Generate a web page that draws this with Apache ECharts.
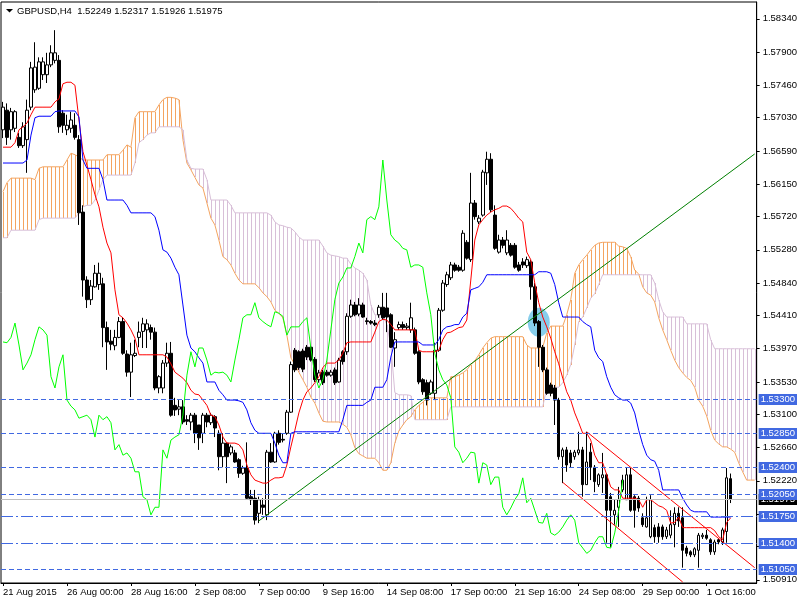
<!DOCTYPE html>
<html><head><meta charset="utf-8">
<script src="https://cdn.jsdelivr.net/npm/echarts@6/dist/echarts.min.js"></script>
<style>html,body{margin:0;padding:0;background:#fff}#c{width:800px;height:600px}</style>
</head><body><div id="c"></div><script>
const FONT = "'Liberation Sans', Arial, sans-serif";
const titleText = 'GBPUSD,H4  1.52249 1.52317 1.51926 1.51975';
const xLabels = ['21 Aug 2015','26 Aug 00:00','28 Aug 16:00','2 Sep 08:00','7 Sep 00:00','9 Sep 16:00','14 Sep 08:00','17 Sep 00:00','21 Sep 16:00','24 Sep 08:00','29 Sep 00:00','1 Oct 16:00'];
const yTicks = [1.50910,1.51350,1.51780,1.52220,1.52660,1.53100,1.53530,1.53970,1.54410,1.54840,1.55280,1.55720,1.56150,1.56590,1.57030,1.57460,1.57900,1.58340];
const yMin = 1.50867, yMax = 1.58563;

// [open, close, low, high]
const candles = [
[1.5687,1.5717,1.5676,1.5724],[1.5713,1.5677,1.5667,1.5722],[1.5687,1.5711,1.5674,1.5716],[1.5689,1.5711,1.5684,1.5713],[1.5677,1.5666,1.5663,1.5683],
[1.5666,1.5691,1.5663,1.5697],[1.5674,1.5713,1.5630,1.5727],[1.5717,1.5769,1.5713,1.5777],[1.5740,1.5770,1.5736,1.5803],[1.5742,1.5777,1.5740,1.5783],
[1.5760,1.5777,1.5753,1.5783],[1.5760,1.5773,1.5749,1.5789],[1.5773,1.5789,1.5770,1.5799],[1.5779,1.5789,1.5775,1.5819],[1.5779,1.5691,1.5683,1.5786],
[1.5709,1.5693,1.5683,1.5713],[1.5687,1.5693,1.5680,1.5707],[1.5689,1.5700,1.5683,1.5711],[1.5693,1.5677,1.5674,1.5709],[1.5674,1.5577,1.5561,1.5680],
[1.5578,1.5488,1.5466,1.5587],[1.5488,1.5462,1.5451,1.5493],[1.5462,1.5480,1.5455,1.5488],[1.5479,1.5497,1.5478,1.5508],[1.5482,1.5497,1.5475,1.5511],
[1.5483,1.5425,1.5399,1.5491],[1.5425,1.5406,1.5369,1.5433],[1.5407,1.5403,1.5395,1.5422],[1.5401,1.5412,1.5395,1.5422],[1.5412,1.5433,1.5411,1.5439],
[1.5433,1.5391,1.5389,1.5439],[1.5390,1.5366,1.5360,1.5395],[1.5366,1.5389,1.5333,1.5405],[1.5388,1.5391,1.5386,1.5409],[1.5412,1.5419,1.5399,1.5433],
[1.5420,1.5430,1.5398,1.5438],[1.5422,1.5430,1.5398,1.5436],[1.5425,1.5419,1.5409,1.5429],[1.5419,1.5345,1.5342,1.5425],[1.5345,1.5360,1.5338,1.5362],
[1.5345,1.5378,1.5338,1.5382],[1.5378,1.5391,1.5373,1.5405],[1.5391,1.5309,1.5307,1.5406],[1.5322,1.5316,1.5308,1.5332],[1.5317,1.5320,1.5309,1.5329],
[1.5320,1.5300,1.5297,1.5329],[1.5303,1.5301,1.5296,1.5309],[1.5300,1.5309,1.5289,1.5312],[1.5309,1.5285,1.5272,1.5312],[1.5296,1.5279,1.5263,1.5296],
[1.5285,1.5309,1.5272,1.5312],[1.5309,1.5300,1.5293,1.5312],[1.5299,1.5309,1.5296,1.5312],[1.5307,1.5292,1.5280,1.5309],[1.5285,1.5254,1.5236,1.5289],
[1.5254,1.5272,1.5240,1.5285],[1.5272,1.5254,1.5219,1.5272],[1.5259,1.5267,1.5256,1.5270],[1.5259,1.5247,1.5246,1.5263],[1.5250,1.5232,1.5226,1.5252],
[1.5232,1.5239,1.5230,1.5242],[1.5239,1.5199,1.5197,1.5273],[1.5201,1.5197,1.5190,1.5210],[1.5199,1.5170,1.5164,1.5210],[1.5179,1.5197,1.5166,1.5201],
[1.5190,1.5187,1.5177,1.5199],[1.5177,1.5260,1.5170,1.5263],[1.5260,1.5247,1.5246,1.5272],[1.5247,1.5285,1.5246,1.5287],[1.5285,1.5273,1.5270,1.5289],
[1.5277,1.5276,1.5273,1.5285],[1.5285,1.5313,1.5283,1.5316],[1.5313,1.5376,1.5312,1.5380],[1.5395,1.5369,1.5366,1.5398],[1.5393,1.5372,1.5369,1.5395],
[1.5394,1.5370,1.5366,1.5397],[1.5399,1.5386,1.5382,1.5402],[1.5399,1.5382,1.5380,1.5402],[1.5383,1.5356,1.5353,1.5386],[1.5356,1.5365,1.5352,1.5369],
[1.5366,1.5352,1.5349,1.5369],[1.5366,1.5362,1.5360,1.5369],[1.5362,1.5366,1.5360,1.5369],[1.5369,1.5352,1.5349,1.5372],[1.5353,1.5382,1.5352,1.5385],
[1.5393,1.5380,1.5376,1.5395],[1.5393,1.5440,1.5389,1.5444],[1.5440,1.5455,1.5438,1.5462],[1.5455,1.5442,1.5440,1.5459],[1.5443,1.5455,1.5440,1.5464],
[1.5455,1.5439,1.5438,1.5458],[1.5434,1.5433,1.5429,1.5438],[1.5433,1.5431,1.5429,1.5435],[1.5431,1.5429,1.5427,1.5435],[1.5442,1.5452,1.5438,1.5455],
[1.5452,1.5438,1.5435,1.5471],[1.5451,1.5439,1.5419,1.5471],[1.5442,1.5399,1.5398,1.5444],[1.5398,1.5409,1.5373,1.5419],[1.5425,1.5429,1.5422,1.5433],
[1.5429,1.5425,1.5422,1.5433],[1.5425,1.5427,1.5422,1.5431],[1.5422,1.5438,1.5418,1.5458],[1.5422,1.5391,1.5389,1.5425],[1.5393,1.5353,1.5350,1.5395],
[1.5356,1.5340,1.5336,1.5358],[1.5352,1.5329,1.5322,1.5356],[1.5338,1.5353,1.5336,1.5356],[1.5338,1.5395,1.5329,1.5405],[1.5395,1.5448,1.5393,1.5451],
[1.5448,1.5484,1.5446,1.5488],[1.5482,1.5495,1.5479,1.5499],[1.5491,1.5508,1.5488,1.5512],[1.5508,1.5501,1.5499,1.5511],[1.5505,1.5501,1.5499,1.5508],
[1.5501,1.5550,1.5499,1.5554],[1.5538,1.5517,1.5515,1.5541],[1.5515,1.5590,1.5512,1.5630],[1.5590,1.5572,1.5568,1.5594],[1.5565,1.5570,1.5562,1.5574],
[1.5574,1.5631,1.5572,1.5634],[1.5630,1.5648,1.5614,1.5658],[1.5648,1.5581,1.5578,1.5656],[1.5574,1.5530,1.5528,1.5587],[1.5525,1.5541,1.5523,1.5548],
[1.5541,1.5534,1.5530,1.5545],[1.5524,1.5541,1.5521,1.5554],[1.5534,1.5521,1.5519,1.5537],[1.5534,1.5505,1.5503,1.5537],[1.5508,1.5501,1.5499,1.5512],
[1.5512,1.5508,1.5504,1.5517],[1.5507,1.5515,1.5504,1.5519],[1.5512,1.5479,1.5462,1.5515],[1.5479,1.5431,1.5427,1.5484],[1.5433,1.5399,1.5373,1.5435],
[1.5399,1.5369,1.5366,1.5402],[1.5369,1.5338,1.5336,1.5372],[1.5349,1.5338,1.5334,1.5352],[1.5345,1.5329,1.5296,1.5349],[1.5329,1.5254,1.5250,1.5332],
[1.5254,1.5263,1.5219,1.5266],[1.5263,1.5243,1.5234,1.5267],[1.5259,1.5246,1.5240,1.5263],[1.5254,1.5260,1.5250,1.5263],[1.5259,1.5263,1.5256,1.5287],
[1.5263,1.5217,1.5201,1.5267],[1.5217,1.5247,1.5217,1.5287],[1.5260,1.5240,1.5223,1.5272],[1.5240,1.5221,1.5207,1.5243],[1.5217,1.5230,1.5214,1.5232],
[1.5226,1.5230,1.5206,1.5259],[1.5230,1.5183,1.5140,1.5232],[1.5201,1.5183,1.5134,1.5206],[1.5177,1.5183,1.5164,1.5197],[1.5187,1.5197,1.5161,1.5214],
[1.5210,1.5223,1.5207,1.5230],[1.5197,1.5230,1.5197,1.5239],[1.5230,1.5183,1.5181,1.5239],[1.5201,1.5183,1.5160,1.5203],[1.5199,1.5186,1.5181,1.5202],
[1.5173,1.5164,1.5161,1.5179],[1.5161,1.5173,1.5160,1.5201],[1.5148,1.5197,1.5146,1.5203],[1.5160,1.5148,1.5140,1.5164],[1.5161,1.5148,1.5140,1.5166],
[1.5161,1.5148,1.5144,1.5164],[1.5148,1.5157,1.5145,1.5161],[1.5150,1.5164,1.5146,1.5183],[1.5164,1.5179,1.5134,1.5187],[1.5179,1.5169,1.5161,1.5187],
[1.5173,1.5130,1.5107,1.5187],[1.5133,1.5126,1.5122,1.5136],[1.5128,1.5124,1.5121,1.5130],[1.5124,1.5132,1.5121,1.5134],[1.5130,1.5150,1.5107,1.5153],
[1.5148,1.5150,1.5145,1.5153],[1.5150,1.5146,1.5144,1.5157],[1.5144,1.5128,1.5124,1.5146],[1.5128,1.5141,1.5124,1.5144],[1.5144,1.5141,1.5138,1.5146],
[1.5141,1.5157,1.5137,1.5160],[1.5155,1.5226,1.5140,1.5239],[1.52249,1.51975,1.51926,1.52317]
];

const tenkan = [
1.5664,1.5664,1.5664,1.5670,1.5687,1.5691,1.5696,1.5707,1.5717,1.5717,
1.5717,1.5717,1.5717,1.5724,1.5728,1.5748,1.5750,1.5750,1.5746,1.5700,
1.5658,1.5640,1.5621,1.5601,1.5585,1.5558,1.5537,1.5524,1.5475,1.5442,
1.5438,1.5431,1.5422,1.5411,1.5389,1.5389,1.5389,1.5389,1.5389,1.5389,
1.5389,1.5386,1.5377,1.5366,1.5362,1.5358,1.5352,1.5342,1.5337,1.5336,
1.5329,1.5322,1.5309,1.5307,1.5296,1.5280,1.5272,1.5272,1.5272,1.5270,
1.5263,1.5243,1.5230,1.5223,1.5221,1.5219,1.5219,1.5223,1.5226,1.5226,
1.5227,1.5243,1.5267,1.5289,1.5312,1.5329,1.5340,1.5345,1.5352,1.5360,
1.5372,1.5378,1.5378,1.5378,1.5382,1.5391,1.5405,1.5406,1.5406,1.5406,
1.5406,1.5406,1.5406,1.5419,1.5433,1.5436,1.5435,1.5429,1.5422,1.5422,
1.5422,1.5422,1.5422,1.5422,1.5395,1.5393,1.5393,1.5393,1.5393,1.5395,
1.5409,1.5418,1.5419,1.5422,1.5425,1.5426,1.5435,1.5488,1.5541,1.5561,
1.5568,1.5574,1.5578,1.5581,1.5583,1.5586,1.5586,1.5583,1.5577,1.5570,
1.5565,1.5525,1.5515,1.5484,1.5458,1.5439,1.5426,1.5411,1.5393,1.5377,
1.5358,1.5340,1.5329,1.5312,1.5299,1.5285,1.5285,1.5276,1.5256,1.5246,
1.5246,1.5230,1.5214,1.5210,1.5210,1.5199,1.5199,1.5199,1.5199,1.5197,
1.5187,1.5197,1.5197,1.5193,1.5189,1.5187,1.5183,1.5166,1.5167,1.5174,
1.5160,1.5160,1.5160,1.5160,1.5160,1.5160,1.5160,1.5160,1.5156,1.5148,
1.5144,1.5167,1.5173
];

const kijun = [
1.5643,1.5643,1.5643,1.5643,1.5643,1.5643,1.5647,1.5680,1.5703,1.5705,
1.5705,1.5705,1.5705,1.5711,1.5712,1.5712,1.5712,1.5712,1.5712,1.5704,
1.5647,1.5636,1.5636,1.5636,1.5636,1.5621,1.5594,1.5594,1.5594,1.5594,
1.5594,1.5587,1.5577,1.5577,1.5577,1.5577,1.5577,1.5577,1.5572,1.5554,
1.5528,1.5525,1.5517,1.5505,1.5495,1.5455,1.5415,1.5398,1.5393,1.5385,
1.5378,1.5353,1.5353,1.5353,1.5342,1.5336,1.5329,1.5329,1.5329,1.5328,
1.5326,1.5316,1.5299,1.5289,1.5285,1.5285,1.5285,1.5285,1.5272,1.5256,
1.5246,1.5246,1.5285,1.5287,1.5287,1.5287,1.5287,1.5287,1.5287,1.5287,
1.5287,1.5287,1.5287,1.5287,1.5287,1.5303,1.5322,1.5322,1.5322,1.5322,
1.5322,1.5326,1.5329,1.5346,1.5346,1.5346,1.5356,1.5386,1.5406,1.5406,
1.5406,1.5406,1.5406,1.5406,1.5406,1.5402,1.5402,1.5402,1.5402,1.5409,
1.5422,1.5426,1.5427,1.5429,1.5429,1.5439,1.5444,1.5475,1.5477,1.5479,
1.5485,1.5495,1.5495,1.5495,1.5495,1.5495,1.5495,1.5495,1.5495,1.5495,
1.5495,1.5495,1.5495,1.5495,1.5499,1.5499,1.5499,1.5497,1.5482,1.5458,
1.5439,1.5439,1.5439,1.5439,1.5439,1.5433,1.5429,1.5426,1.5395,1.5385,
1.5380,1.5360,1.5346,1.5336,1.5332,1.5329,1.5329,1.5325,1.5312,1.5289,
1.5270,1.5256,1.5250,1.5248,1.5236,1.5210,1.5210,1.5210,1.5210,1.5210,
1.5199,1.5190,1.5183,1.5181,1.5181,1.5181,1.5181,1.5174,1.5174,1.5174,
1.5174,1.5174,1.5174
];

const chikou = [
1.5406,1.5405,1.5412,1.5431,1.5402,1.5369,1.5378,1.5389,1.5409,1.5426,
1.5422,1.5415,1.5360,1.5345,1.5373,1.5389,1.5329,1.5321,1.5316,1.5305,
1.5307,1.5309,1.5303,1.5280,1.5309,1.5303,1.5307,1.5299,1.5263,1.5270,
1.5256,1.5259,1.5252,1.5234,1.5234,1.5201,1.5197,1.5177,1.5187,1.5187,
1.5263,1.5252,1.5276,1.5280,1.5283,1.5309,1.5362,1.5393,1.5373,1.5398,
1.5398,1.5382,1.5362,1.5366,1.5365,1.5366,1.5362,1.5353,1.5382,1.5409,
1.5438,1.5442,1.5442,1.5458,1.5438,1.5433,1.5429,1.5426,1.5446,1.5444,
1.5440,1.5415,1.5426,1.5426,1.5426,1.5433,1.5438,1.5398,1.5362,1.5345,
1.5356,1.5382,1.5422,1.5462,1.5484,1.5492,1.5504,1.5504,1.5519,1.5537,
1.5524,1.5568,1.5572,1.5568,1.5585,1.5647,1.5594,1.5548,1.5541,1.5537,
1.5530,1.5528,1.5505,1.5508,1.5508,1.5505,1.5471,1.5442,1.5391,1.5369,
1.5356,1.5349,1.5332,1.5267,1.5260,1.5246,1.5252,1.5260,1.5259,1.5219,
1.5246,1.5243,1.5217,1.5227,1.5227,1.5187,1.5177,1.5186,1.5197,1.5205,
1.5226,1.5193,1.5199,1.5183,1.5167,1.5166,1.5179,1.5153,1.5150,1.5154,
1.5161,1.5170,1.5177,1.5170,1.5140,1.5133,1.5126,1.5130,1.5140,1.5148,
1.5148,1.5134,1.5133,1.5153,1.5183,1.5223
];

const spanA = [
1.5605,1.5617,1.5623,1.5623,1.5623,1.5623,1.5623,1.5623,1.5621,1.5636,
1.5638,1.5638,1.5638,1.5638,1.5638,1.5638,1.5647,1.5656,1.5654,1.5651,
1.5647,1.5647,1.5647,1.5647,1.5647,1.5647,1.5654,1.5654,1.5654,1.5654,
1.5660,1.5667,1.5664,1.5703,1.5711,1.5711,1.5711,1.5711,1.5711,1.5720,
1.5727,1.5730,1.5730,1.5729,1.5727,1.5674,1.5643,1.5634,1.5624,1.5614,
1.5610,1.5590,1.5570,1.5561,1.5541,1.5519,1.5515,1.5508,1.5497,1.5488,
1.5483,1.5483,1.5483,1.5483,1.5478,1.5471,1.5466,1.5459,1.5448,1.5444,
1.5438,1.5415,1.5385,1.5376,1.5366,1.5356,1.5346,1.5333,1.5325,1.5312,
1.5301,1.5300,1.5300,1.5300,1.5300,1.5297,1.5293,1.5283,1.5266,1.5258,
1.5255,1.5252,1.5252,1.5252,1.5246,1.5236,1.5236,1.5246,1.5272,1.5288,
1.5296,1.5303,1.5307,1.5316,1.5322,1.5326,1.5332,1.5332,1.5332,1.5332,
1.5332,1.5332,1.5360,1.5360,1.5362,1.5365,1.5369,1.5376,1.5381,1.5389,
1.5398,1.5405,1.5411,1.5413,1.5413,1.5413,1.5413,1.5413,1.5413,1.5413,
1.5413,1.5402,1.5398,1.5398,1.5398,1.5399,1.5418,1.5427,1.5427,1.5427,
1.5427,1.5442,1.5462,1.5497,1.5508,1.5515,1.5521,1.5528,1.5534,1.5537,
1.5538,1.5538,1.5538,1.5538,1.5533,1.5532,1.5530,1.5519,1.5501,1.5496,
1.5479,1.5471,1.5468,1.5459,1.5438,1.5422,1.5409,1.5395,1.5382,1.5372,
1.5365,1.5359,1.5355,1.5346,1.5329,1.5321,1.5308,1.5289,1.5276,1.5271,
1.5267,1.5267,1.5264,1.5260,1.5246,1.5234,1.5223,1.5223,1.5223
];

const spanB = [
1.5544,1.5544,1.5554,1.5554,1.5554,1.5554,1.5554,1.5554,1.5554,1.5568,
1.5570,1.5570,1.5570,1.5570,1.5570,1.5570,1.5570,1.5570,1.5570,1.5577,
1.5585,1.5587,1.5587,1.5594,1.5607,1.5621,1.5627,1.5627,1.5627,1.5627,
1.5627,1.5627,1.5627,1.5643,1.5670,1.5674,1.5680,1.5683,1.5683,1.5691,
1.5691,1.5691,1.5691,1.5691,1.5691,1.5687,1.5647,1.5636,1.5635,1.5635,
1.5635,1.5621,1.5594,1.5594,1.5594,1.5594,1.5594,1.5587,1.5577,1.5577,
1.5577,1.5577,1.5577,1.5577,1.5577,1.5577,1.5577,1.5574,1.5565,1.5561,
1.5560,1.5558,1.5557,1.5552,1.5545,1.5541,1.5541,1.5541,1.5541,1.5541,
1.5533,1.5524,1.5521,1.5520,1.5519,1.5517,1.5517,1.5509,1.5504,1.5501,
1.5497,1.5488,1.5455,1.5442,1.5442,1.5442,1.5429,1.5402,1.5339,1.5336,
1.5336,1.5336,1.5335,1.5303,1.5303,1.5303,1.5303,1.5303,1.5303,1.5303,
1.5303,1.5303,1.5320,1.5320,1.5320,1.5320,1.5320,1.5320,1.5320,1.5320,
1.5320,1.5320,1.5320,1.5320,1.5320,1.5320,1.5320,1.5320,1.5320,1.5320,
1.5320,1.5320,1.5320,1.5320,1.5320,1.5320,1.5346,1.5346,1.5346,1.5346,
1.5352,1.5362,1.5376,1.5402,1.5433,1.5439,1.5451,1.5464,1.5470,1.5482,
1.5495,1.5495,1.5495,1.5495,1.5495,1.5495,1.5495,1.5495,1.5495,1.5495,
1.5495,1.5495,1.5495,1.5484,1.5462,1.5446,1.5439,1.5439,1.5439,1.5439,
1.5439,1.5430,1.5430,1.5430,1.5430,1.5430,1.5430,1.5409,1.5397,1.5397,
1.5397,1.5397,1.5397,1.5397,1.5397,1.5397,1.5397,1.5397,1.5397
];

const trendLine = [[64, 1.5169], [188, 1.5655]];
const channelUpper = [[146, 1.5287], [188, 1.5107]];
const channelLower = [[140, 1.5220], [170, 1.5088]];
const highlight = [[134, 1.5432]];
// price levels and their kind: 0 = bid line, 1 = dashed, 2 = dash-dot
const levelValues = [1.51975, 1.53300, 1.52850, 1.52400, 1.52050, 1.51050, 1.51750, 1.51400];
const levelKinds  = [0, 1, 1, 1, 1, 1, 2, 2];

// H4 bar times (weekdays only), starting 21 Aug 2015 08:00
const categories = [];
(function () {
  const pad = n => (n < 10 ? '0' : '') + n;
  let t = Date.UTC(2015, 7, 21, 8);
  while (categories.length < 189) {
    const d = new Date(t);
    const wd = d.getUTCDay();
    if (wd !== 0 && wd !== 6) categories.push(d.getUTCFullYear() + '.' + pad(d.getUTCMonth() + 1) + '.' + pad(d.getUTCDate()) + ' ' + pad(d.getUTCHours()) + ':00');
    t += 4 * 3600 * 1000;
  }
})();

const cloudUp = [], cloudDown = [];
spanA.forEach((a, i) => { (a >= spanB[i] ? cloudUp : cloudDown).push([i, a, spanB[i]]); });
const levelData = levelValues.map((v, i) => [0, v, levelKinds[i]]);

const BLUE = '#4169E1';
const hatchItem = (params, api) => {
  const c = api.visual('color');
  const p1 = api.coord([api.value(0), api.value(1)]);
  const p2 = api.coord([api.value(0), api.value(2)]);
  const x = Math.round(p1[0]) + 0.5;
  return { type: 'line', shape: { x1: x, y1: Math.round(p1[1]), x2: x, y2: Math.round(p2[1]) }, style: { stroke: c, fill: c, lineWidth: 1 } };
};
const levelItem = (params, api) => {
  const cs = params.coordSys;
  const v = api.value(1), kind = api.value(2);
  const y = Math.round(api.coord([0, v])[1]) + 0.5;
  const color = kind === 0 ? '#C0C0C0' : BLUE;
  const dash = kind === 1 ? [5, 3] : (kind === 2 ? [12, 3, 2, 3] : null);
  return {
    type: 'group',
    children: [
      { type: 'line', shape: { x1: cs.x, y1: y, x2: cs.x + cs.width, y2: y }, style: { stroke: color, fill: null, lineWidth: 1, lineDash: dash } },
      { type: 'text', x: cs.x + cs.width + 2, y: y, style: { text: v.toFixed(5), fill: '#fff', backgroundColor: kind === 0 ? '#000' : BLUE, padding: [1, 2, 0, 2], fontSize: 9.5, fontFamily: FONT, lineHeight: 10, verticalAlign: 'middle', align: 'left' } }
    ]
  };
};

const lineS = (data, color, z) => ({ type: 'line', data, symbol: 'none', z, silent: true, color: color, itemStyle: { color }, lineStyle: { color, width: 1 }, animation: false });

const option = {
  animation: false,
  backgroundColor: '#fff',
  title: { text: titleText, left: 17, top: 6, padding: 0, textStyle: { fontSize: 9.5, fontWeight: 'normal', color: '#000', fontFamily: FONT } },
  graphic: [{ type: 'polygon', shape: { points: [[6, 9], [13, 9], [9.5, 12.5]] }, style: { fill: '#000' } }],
  grid: { left: 1, right: 43, top: 2, bottom: 17, show: true, borderColor: '#000', borderWidth: 1 },
  xAxis: {
    type: 'category', data: categories, boundaryGap: true,
    axisLine: { lineStyle: { color: '#000' } },
    axisTick: { show: true, interval: i => i % 16 === 0, alignWithLabel: true, length: 3, lineStyle: { color: '#000' } },
    axisLabel: { interval: i => i % 16 === 0, formatter: (v, i) => xLabels[i / 16] || '', align: 'left', margin: 4, fontSize: 9.5, color: '#000', fontFamily: FONT },
    splitLine: { show: false }
  },
  yAxis: {
    type: 'value', position: 'right', min: yMin, max: yMax,
    axisLine: { show: true, lineStyle: { color: '#000' } },
    axisTick: { show: true, customValues: yTicks, length: 3, lineStyle: { color: '#000' } },
    axisLabel: { customValues: yTicks, formatter: v => Number(v).toFixed(5), margin: 6, fontSize: 9.5, color: '#000', fontFamily: FONT },
    splitLine: { show: false }
  },
  series: [
    { type: 'custom', z: 1, silent: true, data: cloudUp, encode: { x: 0, y: [1, 2] }, color: '#F4A460', itemStyle: { color: '#F4A460' }, renderItem: hatchItem },
    { type: 'custom', z: 1, silent: true, data: cloudDown, encode: { x: 0, y: [1, 2] }, color: '#D8BFD8', itemStyle: { color: '#D8BFD8' }, renderItem: hatchItem },
    lineS(spanA, '#F4A460', 1),
    lineS(spanB, '#D8BFD8', 1),
    { type: 'scatter', data: highlight, symbol: 'circle', symbolSize: [22, 29], z: 1, silent: true, itemStyle: { color: '#87CEEB', opacity: 1 } },
    {
      type: 'candlestick', data: candles, barWidth: 3, z: 2, silent: true,
      itemStyle: { color: '#fff', color0: '#000', borderColor: '#000', borderColor0: '#000', borderWidth: 1 }
    },
    lineS(tenkan, '#FF0000', 3),
    lineS(kijun, '#0000FF', 3),
    lineS(chikou, '#00FF00', 3),
    lineS(trendLine, '#008000', 4),
    lineS(channelUpper, '#FF0000', 4),
    lineS(channelLower, '#FF0000', 4),
    { type: 'custom', z: 5, silent: true, clip: false, data: levelData, encode: { x: 0, y: 1 }, color: BLUE, itemStyle: { color: BLUE }, renderItem: levelItem }
  ]
};

const chart = echarts.init(document.getElementById('c'));
chart.setOption(option);
</script></body></html>
